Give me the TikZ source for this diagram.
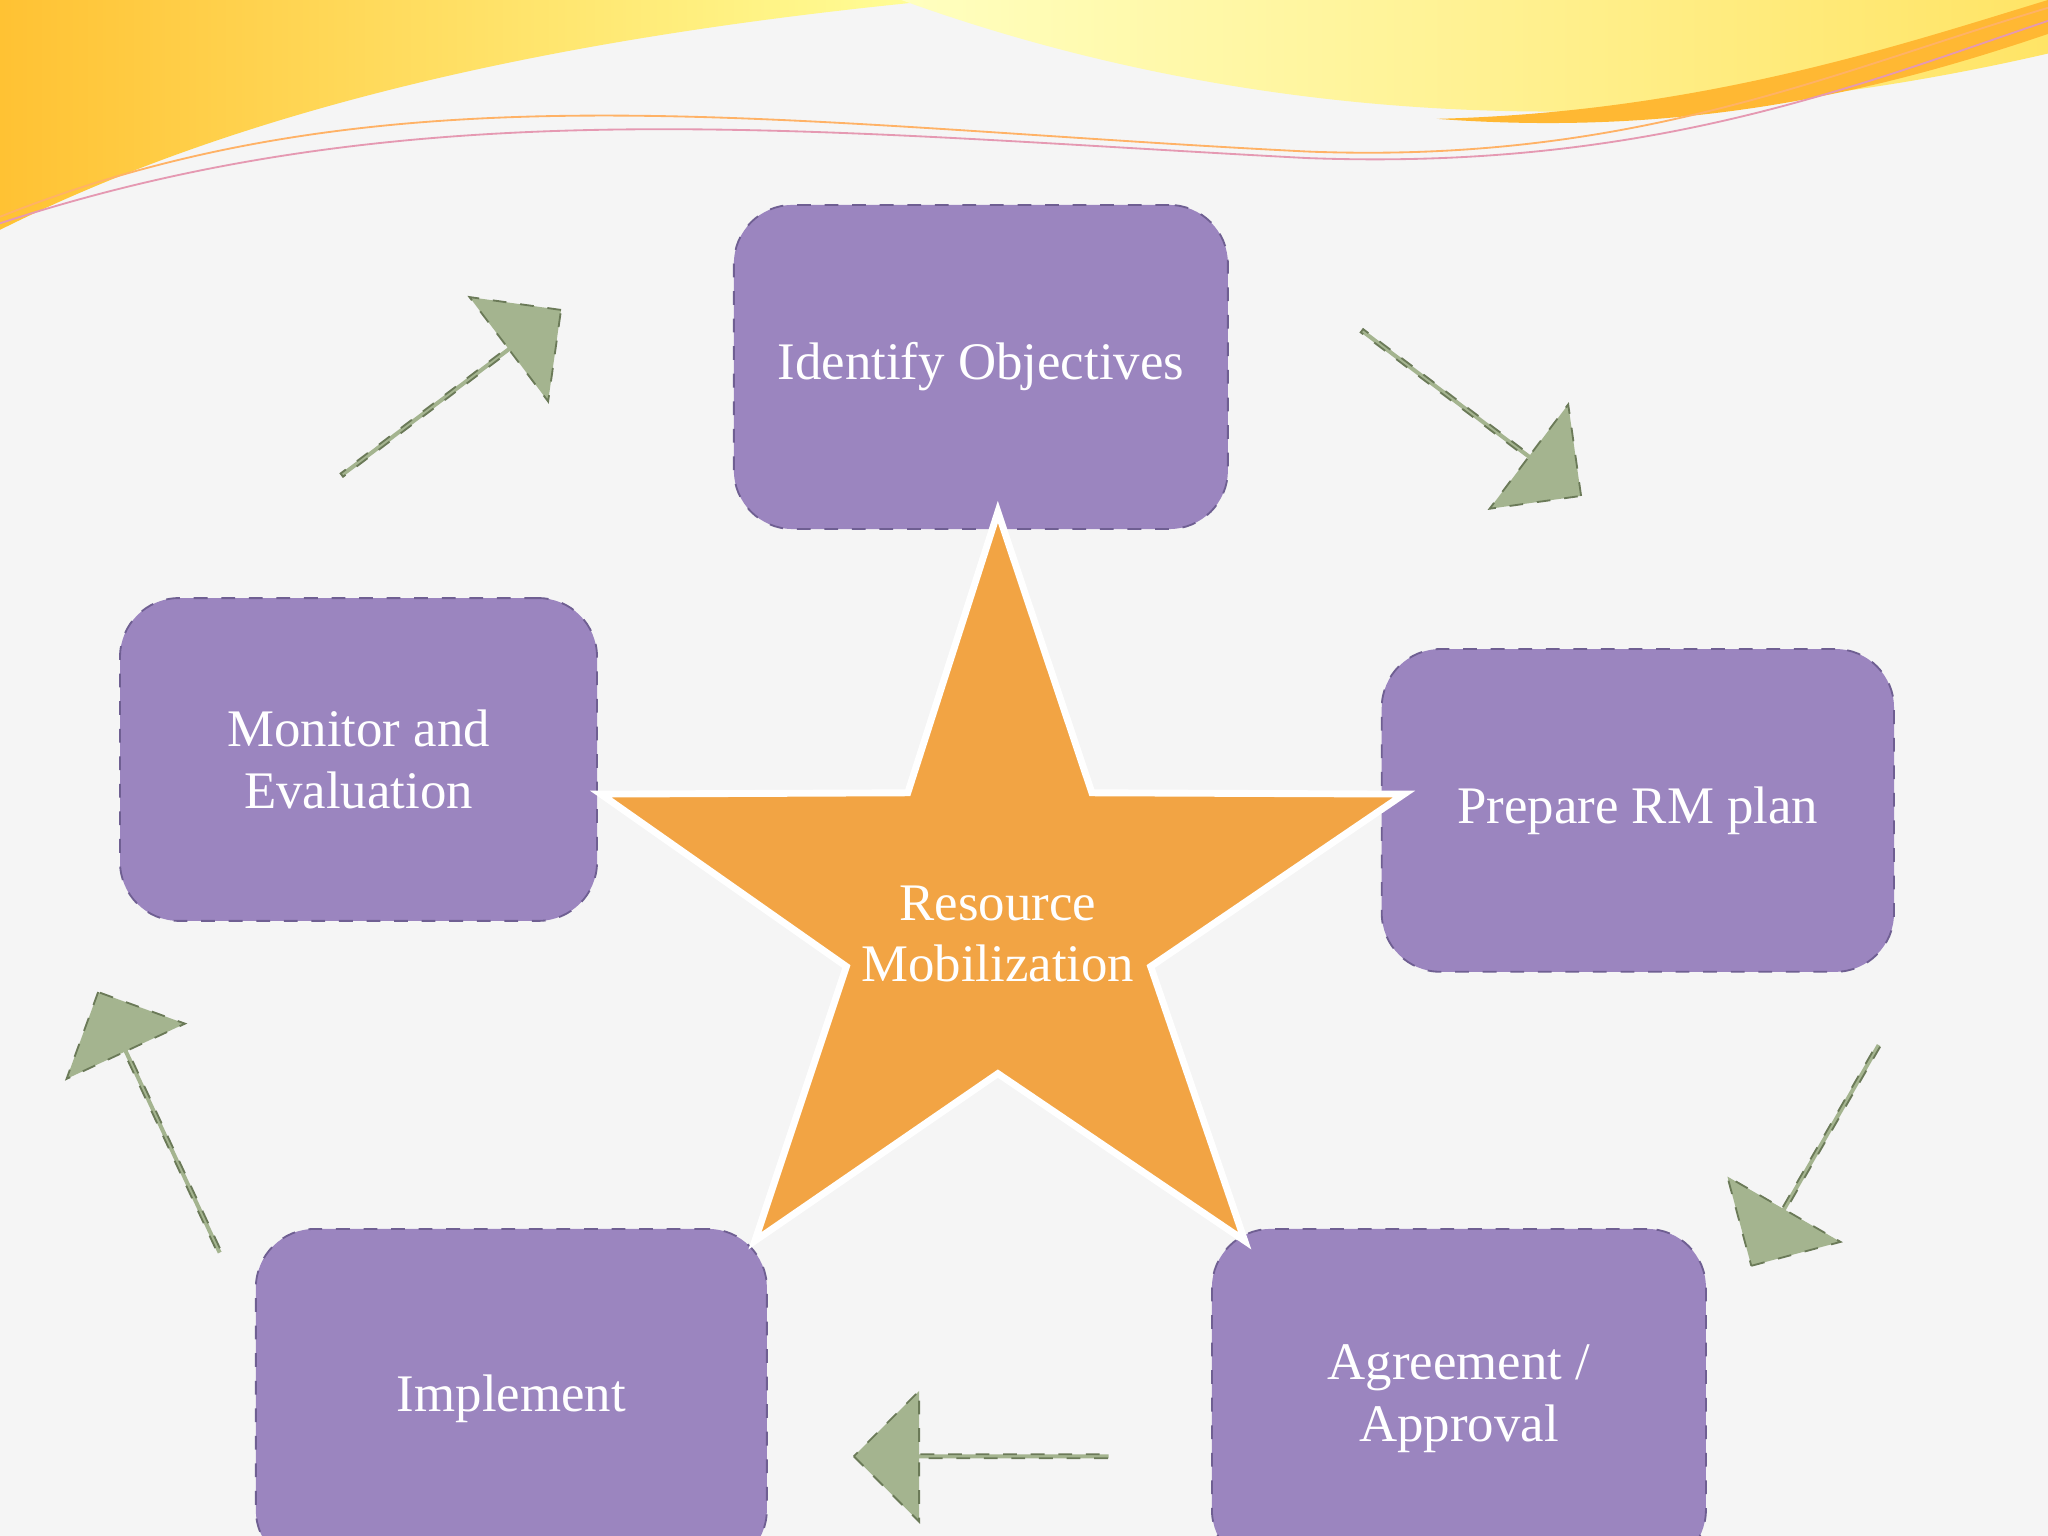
\documentclass[tikz,border=0pt]{standalone}
\usepackage{fontspec}
\setmainfont{Liberation Serif}
\usetikzlibrary{shapes.arrows}
\definecolor{purp}{HTML}{9B85BF}
\definecolor{purpb}{HTML}{6F5F92}
\definecolor{starc}{HTML}{F2A444}
\definecolor{arrc}{HTML}{A4B48F}
\definecolor{arrb}{HTML}{6B7A58}
\begin{document}
\begin{tikzpicture}[x=0.01cm,y=0.01cm,
  box/.style={draw=purpb,dashed,fill=purp,rounded corners=0.45cm,text=white,align=center,
    font=\fontsize{11.5}{13.4}\selectfont,inner sep=0pt},
  garrow/.style={single arrow,draw=arrb,dashed,fill=arrc,minimum width=1cm,
    single arrow head extend=0.22cm,single arrow tip angle=90,inner sep=0pt}]
\useasboundingbox (0,0) rectangle (1568,1176);
\fill[white!96!black] (0,0) rectangle (1568,1176);
% top wave
\shade[left color=orange!60!yellow!80,right color=yellow!40] (0,1176) -- (0,1000) .. controls (200,1100) and (450,1150) .. (720,1176) -- cycle;
\shade[left color=yellow!25,right color=orange!35!yellow!60] (690,1176) .. controls (900,1100) and (1200,1050) .. (1568,1135) -- (1568,1176) -- cycle;
\fill[orange!70!yellow!80] (1100,1085) .. controls (1300,1090) and (1450,1140) .. (1568,1176) -- (1568,1150) .. controls (1450,1110) and (1300,1070) .. (1100,1085);
\draw[orange!60,thin] (0,1010) .. controls (300,1130) and (600,1080) .. (1000,1060) .. controls (1250,1050) and (1400,1120) .. (1568,1170);
\draw[purple!40,thin] (0,1005) .. controls (320,1110) and (620,1075) .. (1000,1055) .. controls (1260,1045) and (1420,1110) .. (1568,1160);
% boxes
\node[box,minimum width=3.78cm,minimum height=2.48cm] (obj) at (751,895) {Identify Objectives};
\node[box,minimum width=3.65cm,minimum height=2.47cm] (mon) at (274.5,594.5) {Monitor and\\Evaluation};
\node[box,minimum width=3.92cm,minimum height=2.47cm] (plan) at (1254,555.5) {Prepare RM plan};
\node[box,minimum width=3.91cm,minimum height=2.6cm] (impl) at (391.5,105) {Implement};
\node[box,minimum width=3.78cm,minimum height=2.6cm] (agr) at (1117,105) {Agreement /\\Approval};
% star
\filldraw[fill=starc,draw=white,line width=1.5pt] (764,784) -- (836,569) -- (1075,568) -- (881,436) -- (953,226) -- (764,354) -- (578,226) -- (648,436) -- (460,568) -- (695,569) -- cycle;
\node[text=white,align=center,font=\fontsize{11.5}{13.4}\selectfont] (rm) at (764,461) {Resource\\Mobilization};
% arrows
\node[garrow,minimum height=2.1cm,rotate=37] (a1) at (345,875) {};
\node[garrow,minimum height=2.1cm,rotate=-37] (a2) at (1126,860) {};
\node[garrow,minimum height=1.95cm,rotate=-120] (a3) at (1390,292) {};
\node[garrow,minimum height=1.95cm,rotate=180] (a4) at (752,61) {};
\node[garrow,minimum height=2.2cm,rotate=115] (a5) at (122,316) {};
\end{tikzpicture}
\end{document}
